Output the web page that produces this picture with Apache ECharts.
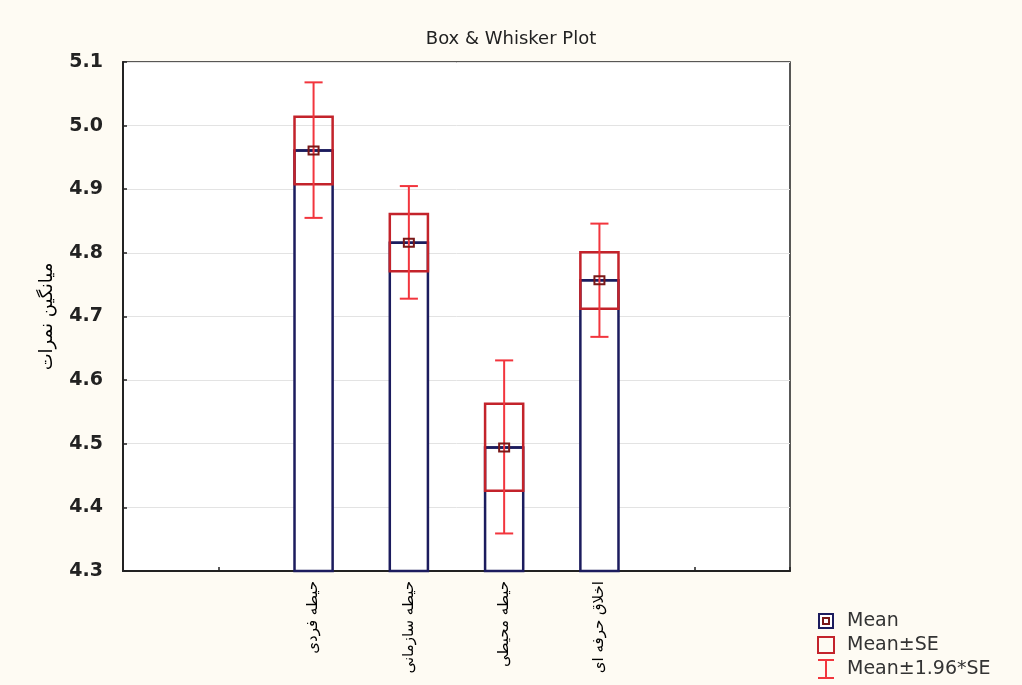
<!DOCTYPE html>
<html><head><meta charset="utf-8">
<script src="https://cdn.jsdelivr.net/npm/echarts@6/dist/echarts.min.js"></script>
<style>html,body{margin:0;padding:0;background:#fefbf3;}#c{width:1022px;height:685px;}</style>
</head><body><div id="c"></div>
<script>
// category slots (8 positions, data at slots 2..5)
var categories = ['', '', 'حیطه فردی', 'حیطه سازمانی', 'حیطه محیطی', 'اخلاق حرفه ای', '', ''];
var slots   = [2, 3, 4, 5];
var means   = [4.961, 4.816, 4.494, 4.757];
var seLow   = [4.908, 4.771, 4.426, 4.712];
var seHigh  = [5.014, 4.861, 4.563, 4.801];
var ciLow   = [4.855, 4.728, 4.359, 4.668];
var ciHigh  = [5.068, 4.905, 4.631, 4.846];
var yTicks  = [4.3, 4.4, 4.5, 4.6, 4.7, 4.8, 4.9, 5.0, 5.1];

var data = slots.map(function (s, i) {
  return [s, means[i], seLow[i], seHigh[i], ciLow[i], ciHigh[i]];
});

var chart = echarts.init(document.getElementById('c'));
var NAVY = '#1c1c5e', BOXRED = '#c3232b', WRED = '#f2353d', MRED = '#7a1818';

function renderItem(params, api) {
  var x = api.value(0);
  var step = api.size([1, 0])[0];
  var w = step * 0.4;
  var cap = step * 0.19;
  var base = api.coord([x, yTicks[0]]);
  var pm = api.coord([x, api.value(1)]);
  var pslo = api.coord([x, api.value(2)]);
  var pshi = api.coord([x, api.value(3)]);
  var pclo = api.coord([x, api.value(4)]);
  var pchi = api.coord([x, api.value(5)]);
  var cx = pm[0];
  return {
    type: 'group',
    children: [
      { type: 'rect', shape: { x: cx - w / 2, y: pm[1], width: w, height: base[1] - pm[1] },
        style: { fill: '#fff', stroke: NAVY, lineWidth: 2.5 } },
      { type: 'line', shape: { x1: cx - w / 2, y1: pm[1], x2: cx + w / 2, y2: pm[1] },
        style: { stroke: NAVY, lineWidth: 2.5 } },
      { type: 'rect', shape: { x: cx - w / 2, y: pshi[1], width: w, height: pslo[1] - pshi[1] },
        style: { fill: 'none', stroke: BOXRED, lineWidth: 2.5 } },
      { type: 'line', shape: { x1: cx, y1: pchi[1], x2: cx, y2: pclo[1] },
        style: { stroke: WRED, lineWidth: 2 } },
      { type: 'line', shape: { x1: cx - cap / 2, y1: pchi[1], x2: cx + cap / 2, y2: pchi[1] },
        style: { stroke: WRED, lineWidth: 2 } },
      { type: 'line', shape: { x1: cx - cap / 2, y1: pclo[1], x2: cx + cap / 2, y2: pclo[1] },
        style: { stroke: WRED, lineWidth: 2 } },
      { type: 'rect', shape: { x: cx - 5, y: pm[1] - 4, width: 10, height: 8 },
        style: { fill: 'none', stroke: MRED, lineWidth: 2 } }
    ]
  };
}

var lx = 818, ly = 621;
var legFont = { fontFamily: 'DejaVu Sans', fontSize: 19, fill: '#333', verticalAlign: 'middle' };
chart.setOption({
  backgroundColor: '#fefbf3',
  animation: false,
  title: {
    text: 'Box & Whisker Plot', left: 'center', top: 25,
    textStyle: { fontFamily: 'DejaVu Sans', fontSize: 18, fontWeight: 'normal', color: '#222' }
  },
  grid: { left: 123, right: 232, top: 62, bottom: 114, show: true, backgroundColor: '#fff',
          borderColor: '#222', borderWidth: 1.5 },
  xAxis: {
    type: 'category', data: categories, boundaryGap: false,
    axisLine: { lineStyle: { color: '#222', width: 2 } },
    axisTick: { inside: true, length: 4, lineStyle: { color: '#222', width: 1.5 } },
    axisLabel: { interval: 0, rotate: 90, margin: 10, fontFamily: 'DejaVu Sans', fontSize: 15, color: '#000' },
    splitLine: { show: false }
  },
  yAxis: {
    type: 'value', min: yTicks[0], max: yTicks[yTicks.length - 1], interval: 0.1,
    name: 'میانگین نمرات', nameLocation: 'middle', nameGap: 67, nameRotate: 90,
    nameTextStyle: { fontFamily: 'DejaVu Sans', fontSize: 18, color: '#000' },
    axisLine: { show: true, lineStyle: { color: '#222', width: 2 } },
    axisTick: { show: true, inside: true, length: 4, lineStyle: { color: '#222', width: 1.5 } },
    axisLabel: { margin: 20, fontFamily: 'DejaVu Sans', fontWeight: 'bold', fontSize: 19, color: '#222',
                 formatter: function (v) { return v.toFixed(1); } },
    splitLine: { show: true, lineStyle: { color: '#e3e3e3', width: 1 } }
  },
  series: [{
    type: 'custom', renderItem: renderItem, data: data, clip: false,
    encode: { x: 0, y: [1, 2, 3, 4, 5] }
  }],
  graphic: [
    { type: 'rect', shape: { x: lx + 1, y: ly - 7, width: 14, height: 14 }, style: { fill: '#fff', stroke: NAVY, lineWidth: 2 } },
    { type: 'rect', shape: { x: lx + 5, y: ly - 3, width: 6, height: 6 }, style: { fill: 'none', stroke: MRED, lineWidth: 2 } },
    { type: 'text', x: lx + 29, y: ly, style: Object.assign({ text: 'Mean' }, legFont) },
    { type: 'rect', shape: { x: lx, y: ly + 24 - 8, width: 16, height: 16 }, style: { fill: 'none', stroke: BOXRED, lineWidth: 2 } },
    { type: 'text', x: lx + 29, y: ly + 24, style: Object.assign({ text: 'Mean±SE' }, legFont) },
    { type: 'line', shape: { x1: lx + 8, y1: ly + 48 - 9, x2: lx + 8, y2: ly + 48 + 9 }, style: { stroke: WRED, lineWidth: 2 } },
    { type: 'line', shape: { x1: lx, y1: ly + 48 - 9, x2: lx + 16, y2: ly + 48 - 9 }, style: { stroke: WRED, lineWidth: 2 } },
    { type: 'line', shape: { x1: lx, y1: ly + 48 + 9, x2: lx + 16, y2: ly + 48 + 9 }, style: { stroke: WRED, lineWidth: 2 } },
    { type: 'text', x: lx + 29, y: ly + 48, style: Object.assign({ text: 'Mean±1.96*SE' }, legFont) }
  ]
});
</script>
</body></html>
